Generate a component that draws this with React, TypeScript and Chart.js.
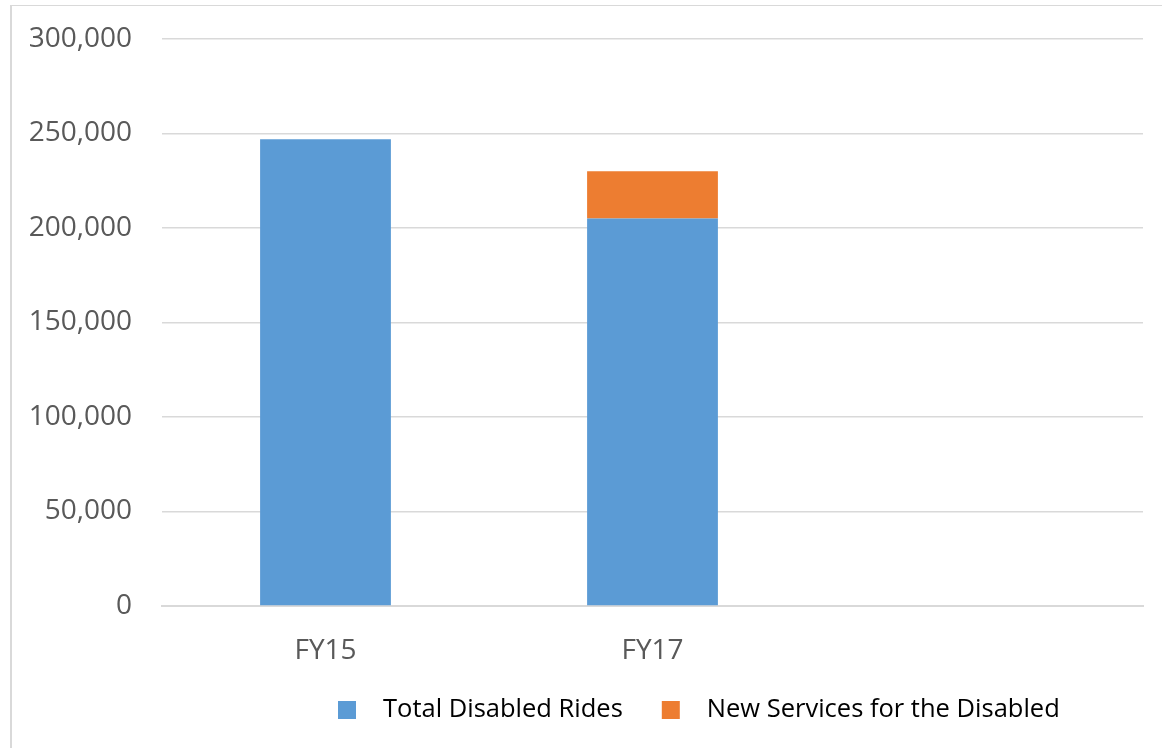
import React, { useEffect, useRef } from "react";
import { Chart, registerables } from "chart.js";

Chart.register(...registerables);

const categories = ["FY15", "FY17", ""];
const totalDisabledRides = [247000, 205000, null];
const newServices = [null, 25000, null];
const seriesNames = ["Total Disabled Rides", "New Services for the Disabled"];
const seriesColors = ["#5b9bd5", "#ed7d31"];
const yTicks = { min: 0, max: 300000, step: 50000 };

const legendPlugin = {
  id: "bottomLegend",
  afterDraw(chart: any) {
    const { ctx, chartArea } = chart;
    ctx.save();
    ctx.font = "25.5px 'Open Sans'";
    const box = 18;
    const gap = 27;
    const itemGap = 39;
    let x = chartArea.left + 176;
    const cy = 710;
    chart.data.datasets.forEach((d: any) => {
      const w = ctx.measureText(d.label).width;
      ctx.fillStyle = d.backgroundColor;
      ctx.fillRect(x, cy - box / 2, box, box);
      x += box + gap;
      ctx.fillStyle = "#000000";
      ctx.textBaseline = "middle";
      ctx.textAlign = "left";
      ctx.fillText(d.label, x, cy);
      x += w + itemGap;
    });
    ctx.restore();
  },
};

export default function App() {
  const ref = useRef<HTMLCanvasElement>(null);
  useEffect(() => {
    if (!ref.current) return;
    const chart = new Chart(ref.current, {
      type: "bar",
      data: {
        labels: categories,
        datasets: [
          {
            label: seriesNames[0],
            data: totalDisabledRides,
            backgroundColor: seriesColors[0],
            barPercentage: 1,
            categoryPercentage: 0.4,
          },
          {
            label: seriesNames[1],
            data: newServices,
            backgroundColor: seriesColors[1],
            barPercentage: 1,
            categoryPercentage: 0.4,
          },
        ],
      },
      options: {
        animation: false,
        responsive: false,
        maintainAspectRatio: false,
        layout: { padding: { left: 0, top: 39, right: 19, bottom: 0 } },
        plugins: {
          legend: { display: false },
          tooltip: { enabled: false },
        },
        scales: {
          x: {
            stacked: true,
            grid: { display: false, drawTicks: false },
            border: { display: true, color: "#d9d9d9", width: 2 },
            ticks: {
              color: "#595959",
              font: { family: "'Open Sans'", size: 28 },
              padding: 28,
            },
            afterFit: (s: any) => {
              s.height = 142;
            },
          },
          y: {
            stacked: true,
            min: yTicks.min,
            max: yTicks.max,
            grid: { color: "#d9d9d9", lineWidth: 1.5, drawTicks: false },
            border: { display: false },
            ticks: {
              stepSize: yTicks.step,
              color: "#595959",
              font: { family: "'Open Sans'", size: 28 },
              padding: 30,
              callback: (v: any) => Number(v).toLocaleString("en-US"),
            },
            afterFit: (s: any) => {
              s.width = 162;
              s.paddingTop = 0;
              s.paddingBottom = 0;
            },
          },
        },
      },
      plugins: [legendPlugin],
    });
    return () => chart.destroy();
  }, []);

  return (
    <div
      style={{
        position: "fixed",
        left: 0,
        top: 0,
        width: 1162,
        height: 748,
        overflow: "hidden",
        background: "#ffffff",
      }}
    >
      <div
        style={{
          position: "absolute",
          left: 10,
          top: 5,
          width: 1200,
          height: 800,
          borderLeft: "2px solid #d9d9d9",
          borderTop: "1px solid #d9d9d9",
        }}
      />
      <canvas
        ref={ref}
        width={1162}
        height={748}
        style={{ position: "absolute", left: 0, top: 0, width: 1162, height: 748 }}
      />
    </div>
  );
}
